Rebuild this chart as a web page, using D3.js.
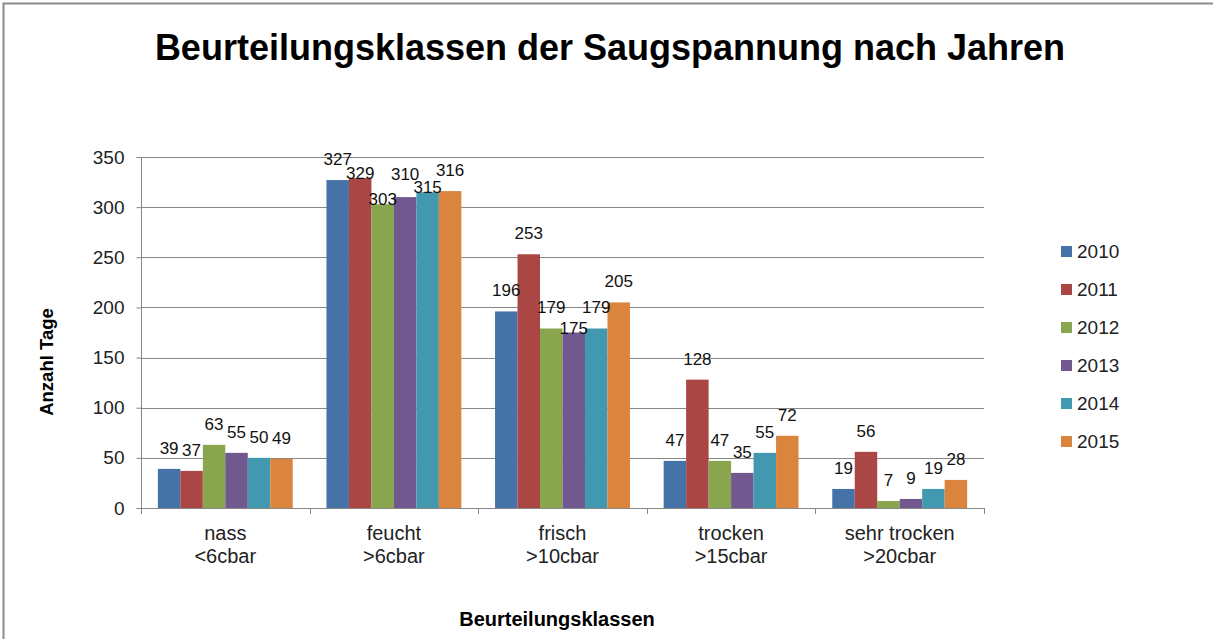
<!DOCTYPE html>
<html>
<head>
<meta charset="utf-8">
<script src="https://cdn.jsdelivr.net/npm/d3@7"></script>
<style>
  html, body { margin: 0; padding: 0; background: #fff; }
  svg text { font-family: "Liberation Sans", Arial, sans-serif; }
</style>
</head>
<body>
<div id="chart"></div>
<script>
// Daten
var kategorien = ["nass", "feucht", "frisch", "trocken", "sehr trocken"];
var bereiche = ["<6cbar", ">6cbar", ">10cbar", ">15cbar", ">20cbar"];
var jahre = ["2010", "2011", "2012", "2013", "2014", "2015"];
var werte2010 = [39, 327, 196, 47, 19];
var werte2011 = [37, 329, 253, 128, 56];
var werte2012 = [63, 303, 179, 47, 7];
var werte2013 = [55, 310, 175, 35, 9];
var werte2014 = [50, 315, 179, 55, 19];
var werte2015 = [49, 316, 205, 72, 28];
var yTicks = [0, 50, 100, 150, 200, 250, 300, 350];

var reihen = [werte2010, werte2011, werte2012, werte2013, werte2014, werte2015];
var farben = ["#4572A7", "#AA4643", "#89A54E", "#71588F", "#4198AF", "#DB843D"];

var width = 1213, height = 639;
var links = 141, rechts = 984, oben = 157, unten = 508;
var gitter = "#868686";

var svg = d3.select("#chart").append("svg")
    .attr("width", width)
    .attr("height", height);

// Rahmen
svg.append("rect")
    .attr("x", 3.5).attr("y", 3.5)
    .attr("width", width + 20).attr("height", height + 20)
    .attr("fill", "#fff")
    .attr("stroke", "#8c8c8c")
    .attr("stroke-width", 2);

svg.append("text")
    .attr("x", 610).attr("y", 60)
    .attr("text-anchor", "middle")
    .attr("font-size", 36)
    .attr("font-weight", "bold")
    .text("Beurteilungsklassen der Saugspannung nach Jahren");

var y = d3.scaleLinear().domain([0, 350]).range([unten, oben]);
var x0 = d3.scaleBand().domain(kategorien).range([links, rechts]).paddingInner(0).paddingOuter(0);
var x1 = d3.scaleBand().domain(jahre).range([0, x0.bandwidth()]).paddingInner(0).paddingOuter(0.75);

// Gitterlinien
svg.append("g").selectAll("line")
    .data(yTicks.filter(function (t) { return t > 0; }))
    .enter().append("line")
    .attr("x1", links).attr("x2", rechts)
    .attr("y1", function (d) { return Math.round(y(d)) + 0.5; })
    .attr("y2", function (d) { return Math.round(y(d)) + 0.5; })
    .attr("stroke", gitter);

// Balken
var gruppen = svg.append("g").selectAll("g")
    .data(kategorien)
    .enter().append("g")
    .attr("transform", function (d) { return "translate(" + x0(d) + ",0)"; });

gruppen.selectAll("rect")
    .data(function (k, i) {
        return jahre.map(function (j, s) { return {jahr: j, wert: reihen[s][i], s: s}; });
    })
    .enter().append("rect")
    .attr("x", function (d) { return x1(d.jahr); })
    .attr("y", function (d) { return y(d.wert); })
    .attr("width", x1.bandwidth())
    .attr("height", function (d) { return unten - y(d.wert); })
    .attr("fill", function (d) { return farben[d.s]; });

// Achsen
var yAxis = svg.append("g")
    .attr("transform", "translate(" + (links + 0.5) + ",0)")
    .call(d3.axisLeft(y).tickValues(yTicks).tickSize(5).tickPadding(12));
yAxis.select(".domain").attr("stroke", gitter).attr("d", "M-5," + (oben + 0.5) + "H0V" + (unten + 0.5) + "H-5");
yAxis.selectAll(".tick line").attr("stroke", gitter);
yAxis.selectAll(".tick text")
    .attr("font-size", 19)
    .attr("fill", "#222")
    .attr("font-family", "Liberation Sans, Arial, sans-serif");

var grenzen = kategorien.map(function (k) { return x0(k); }).concat([rechts]);
svg.append("line")
    .attr("x1", links).attr("x2", rechts)
    .attr("y1", unten + 0.5).attr("y2", unten + 0.5)
    .attr("stroke", gitter);
svg.append("g").selectAll("line")
    .data(grenzen)
    .enter().append("line")
    .attr("x1", function (d) { return Math.round(d) + 0.5; })
    .attr("x2", function (d) { return Math.round(d) + 0.5; })
    .attr("y1", unten).attr("y2", unten + 6)
    .attr("stroke", gitter);

var katText = svg.append("g").selectAll("text")
    .data(kategorien)
    .enter().append("text")
    .attr("x", function (d) { return x0(d) + x0.bandwidth() / 2; })
    .attr("y", 540)
    .attr("text-anchor", "middle")
    .attr("font-size", 20)
    .attr("fill", "#222");
katText.append("tspan").text(function (d) { return d; });
katText.append("tspan")
    .attr("x", function (d) { return x0(d) + x0.bandwidth() / 2; })
    .attr("dy", 23)
    .text(function (d, i) { return bereiche[i]; });

// Datenbeschriftungen: ueber dem Balken, bei Ueberlappung nach unten schieben
var h = 13;
kategorien.forEach(function (k, i) {
    var labels = [];
    jahre.forEach(function (j, s) {
        var wert = reihen[s][i];
        var cx = x0(k) + x1(j) + x1.bandwidth() / 2;
        var t = svg.append("text")
            .attr("x", cx)
            .attr("text-anchor", "middle")
            .attr("font-size", 17)
            .attr("fill", "#111")
            .text(wert);
        var lab = {el: t, cx: cx, w: t.node().getComputedTextLength(), top: y(wert), y: y(wert) - 15};
        var prev = labels[labels.length - 1];
        if (prev && Math.abs(lab.cx - prev.cx) < (lab.w + prev.w) / 2 - 1 && Math.abs(lab.y - prev.y) < h) {
            lab.y = lab.top + 1;
            if (Math.abs(lab.y - prev.y) < h) prev.y = lab.y - h;
        }
        labels.push(lab);
    });
    labels.forEach(function (l) { l.el.attr("y", l.y); });
});

// Achsentitel
svg.append("text")
    .attr("x", 557).attr("y", 626)
    .attr("text-anchor", "middle")
    .attr("font-size", 20)
    .attr("font-weight", "bold")
    .text("Beurteilungsklassen");

svg.append("text")
    .attr("transform", "translate(53,362) rotate(-90)")
    .attr("text-anchor", "middle")
    .attr("font-size", 18.5)
    .attr("font-weight", "bold")
    .text("Anzahl Tage");

// Legende
var legende = svg.append("g").selectAll("g")
    .data(jahre)
    .enter().append("g")
    .attr("transform", function (d, i) { return "translate(1061," + (251 + i * 38) + ")"; });
legende.append("rect")
    .attr("x", 0).attr("y", -5)
    .attr("width", 11).attr("height", 11)
    .attr("fill", function (d, i) { return farben[i]; });
legende.append("text")
    .attr("x", 16).attr("y", 7)
    .attr("font-size", 19)
    .attr("fill", "#222")
    .text(function (d) { return d; });
</script>
</body>
</html>
